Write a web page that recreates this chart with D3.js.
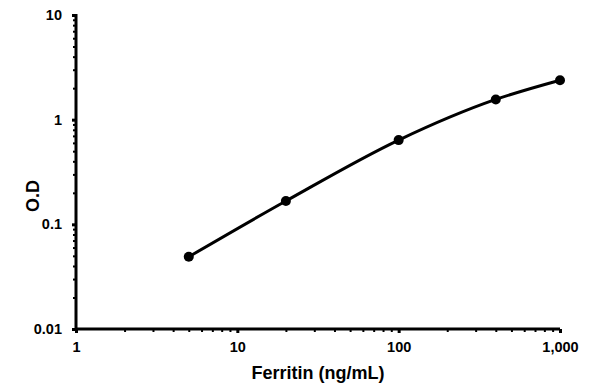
<!DOCTYPE html>
<html><head><meta charset="utf-8">
<script src="https://cdn.jsdelivr.net/npm/d3@7"></script>
<style>body{margin:0;background:#fff}svg{display:block}text{font-family:"Liberation Sans",Arial,sans-serif;font-weight:bold}</style>
</head><body><svg width="595" height="392"></svg>
<script>
const concentrations = [5, 20, 100, 400, 1000];
const odValues = [0.049, 0.167, 0.638, 1.56, 2.38];
const xTicks = [1, 10, 100, 1000];
const xTickLabels = ["1", "10", "100", "1,000"];
const yTicks = [0.01, 0.1, 1, 10];
const yTickLabels = ["0.01", "0.1", "1", "10"];

const svg = d3.select("svg");
const x = d3.scaleLog().domain([1, 1000]).range([76, 560]);
const y = d3.scaleLog().domain([0.01, 10]).range([329, 15]);

const xMinor = [];
for (let d = 1; d < 1000; d *= 10) for (let k = 2; k <= 9; k++) xMinor.push(d * k);
const yMinor = [];
for (let d = 0.01; d < 9; d *= 10) for (let k = 2; k <= 9; k++) yMinor.push(d * k);

svg.append("g").attr("transform", "translate(0,329)")
  .call(d3.axisBottom(x).tickValues(xMinor).tickSize(3).tickFormat(""))
  .call(g => { g.select(".domain").remove(); g.selectAll("line").attr("stroke-width", 2); });
svg.append("g").attr("transform", "translate(76,0)")
  .call(d3.axisLeft(y).tickValues(yMinor).tickSize(3).tickFormat(""))
  .call(g => { g.select(".domain").remove(); g.selectAll("line").attr("stroke-width", 2); });

const xAxis = d3.axisBottom(x).tickValues(xTicks).tickSize(4).tickSizeOuter(0).tickPadding(9)
  .tickFormat((d, i) => xTickLabels[i]);
const yAxis = d3.axisLeft(y).tickValues(yTicks).tickSize(4).tickSizeOuter(0).tickPadding(10)
  .tickFormat((d, i) => yTickLabels[i]);
svg.append("g").attr("transform", "translate(0,329)").call(xAxis)
  .call(g => { g.select(".domain").attr("stroke-width", 3).attr("d", "M76,0H560");
    g.selectAll("line").attr("stroke-width", 3);
    g.selectAll("text").attr("font-size", 14.5).attr("fill", "#000"); });
svg.append("g").attr("transform", "translate(76,0)").call(yAxis)
  .call(g => { g.select(".domain").attr("stroke-width", 3).attr("d", "M0,14V330");
    g.selectAll("line").attr("stroke-width", 3);
    g.selectAll("text").attr("font-size", 14.5).attr("fill", "#000"); });

const data = concentrations.map((c, i) => ({c, v: odValues[i]}));
const line = d3.line().x(d => x(d.c)).y(d => y(d.v)).curve(d3.curveMonotoneX);
svg.append("path").datum(data).attr("d", line).attr("fill", "none")
  .attr("stroke", "#000").attr("stroke-width", 3);
svg.selectAll("circle.pt").data(data).join("circle").attr("class", "pt")
  .attr("cx", d => x(d.c)).attr("cy", d => y(d.v)).attr("r", 5).attr("fill", "#000");

svg.append("text").attr("x", 318).attr("y", 379).attr("text-anchor", "middle")
  .attr("font-size", 18).text("Ferritin (ng/mL)");
svg.append("text").attr("transform", "translate(39,196) rotate(-90)").attr("text-anchor", "middle")
  .attr("font-size", 18).text("O.D");
</script></body></html>
